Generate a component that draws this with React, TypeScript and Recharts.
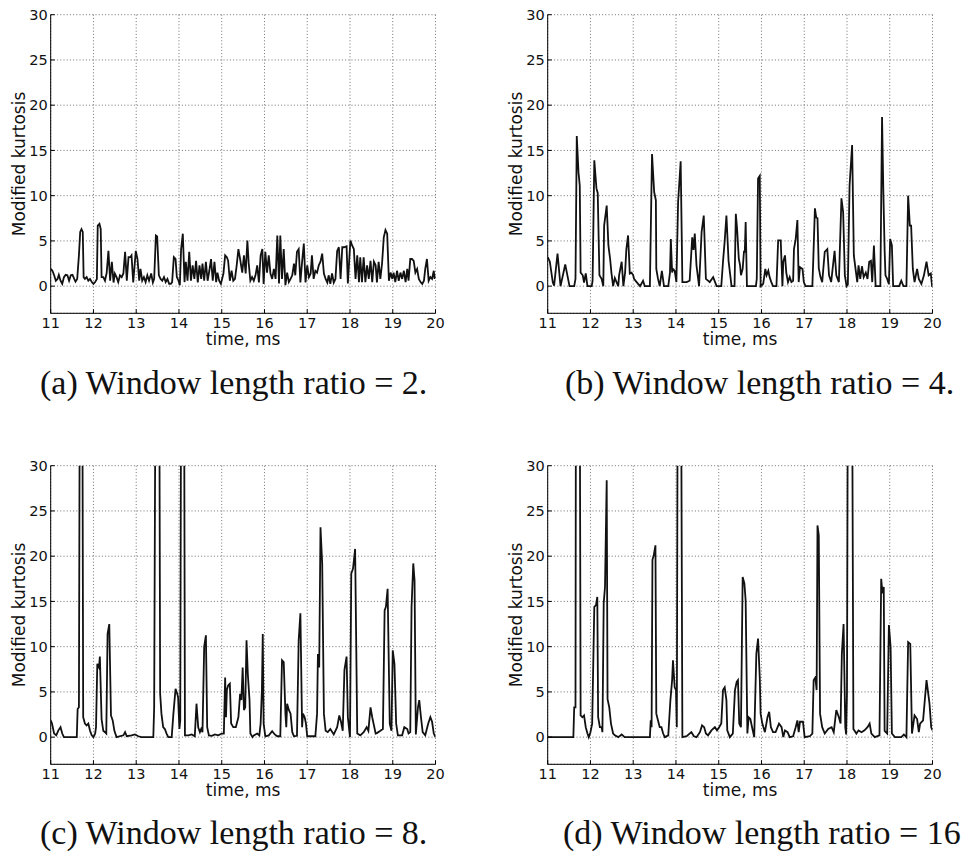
import { LineChart, Line, XAxis, YAxis, CartesianGrid } from "recharts";

// time axis (ms) and kurtosis axis ticks
const timeTicks = [11, 12, 13, 14, 15, 16, 17, 18, 19, 20];
const kurtosisTicks = [0, 5, 10, 15, 20, 25, 30];

// [time ms, modified kurtosis]; values above 30 run off the top of the plot
const ratio2: [number, number][] = [
  [11.00, 1.9], [11.04, 1.7], [11.08, 1.2], [11.12, 0.6], [11.16, 0.8], [11.19, 1.25], [11.23, 0.6], [11.27, 0.26],
  [11.31, 1.0], [11.35, 1.25], [11.39, 1.2], [11.43, 0.6], [11.47, 1.2], [11.51, 1.25], [11.55, 0.8], [11.58, 0.5],
  [11.62, 0.8], [11.66, 3.4], [11.69, 6.0], [11.72, 6.3], [11.75, 6.0], [11.77, 1.0], [11.80, 0.8], [11.84, 1.0],
  [11.88, 0.6], [11.92, 0.8], [11.96, 0.45], [12.00, 0.25], [12.04, 0.45], [12.08, 0.8], [12.10, 6.7], [12.14, 6.9],
  [12.17, 6.3], [12.19, 1.0], [12.23, 1.0], [12.27, 0.6], [12.31, 1.5], [12.35, 3.9], [12.39, 0.6], [12.43, 2.7],
  [12.47, 0.4], [12.50, 1.4], [12.54, 1.0], [12.58, 0.45], [12.62, 1.2], [12.66, 1.0], [12.70, 1.4], [12.74, 3.8],
  [12.78, 0.6], [12.82, 3.2], [12.86, 3.2], [12.89, 3.4], [12.93, 0.4], [12.99, 3.9], [13.03, 3.0], [13.07, 0.6],
  [13.10, 1.9], [13.14, 0.6], [13.18, 1.0], [13.22, 0.45], [13.26, 1.2], [13.30, 0.6], [13.35, 1.4], [13.39, 0.4],
  [13.42, 0.8], [13.46, 5.6], [13.49, 5.5], [13.53, 1.2], [13.57, 0.8], [13.61, 0.6], [13.65, 1.0], [13.69, 0.45],
  [13.73, 0.8], [13.77, 0.26], [13.81, 0.26], [13.84, 0.45], [13.88, 3.2], [13.92, 3.0], [13.95, 1.0], [13.99, 0.6],
  [14.02, 0.1], [14.05, 4.1], [14.09, 5.8], [14.13, 0.45], [14.16, 2.7], [14.20, 0.6], [14.24, 3.8], [14.28, 0.6],
  [14.32, 2.3], [14.36, 0.8], [14.40, 2.8], [14.44, 0.4], [14.48, 2.3], [14.52, 0.8], [14.55, 2.5], [14.59, 0.6],
  [14.63, 2.7], [14.67, 0.6], [14.71, 1.7], [14.75, 3.0], [14.79, 0.6], [14.83, 2.7], [14.87, 0.45], [14.90, 1.5],
  [14.94, 0.6], [14.98, 0.25], [15.04, 1.4], [15.08, 3.4], [15.12, 3.2], [15.15, 2.8], [15.19, 0.6], [15.23, 1.7],
  [15.27, 0.6], [15.31, 0.8], [15.35, 2.3], [15.39, 4.1], [15.43, 3.0], [15.48, 1.5], [15.52, 3.4], [15.56, 1.4],
  [15.60, 5.05], [15.63, 2.6], [15.67, 0.6], [15.71, 1.0], [15.75, 0.6], [15.79, 1.2], [15.83, 2.3], [15.87, 0.4],
  [15.91, 3.4], [15.95, 4.1], [15.98, 0.25], [16.02, 3.8], [16.06, 1.5], [16.10, 3.4], [16.14, 1.4], [16.18, 0.8],
  [16.22, 1.9], [16.26, 0.8], [16.30, 5.6], [16.34, 0.3], [16.37, 5.6], [16.41, 0.8], [16.45, 4.1], [16.49, 0.1],
  [16.53, 1.5], [16.57, 0.45], [16.61, 0.8], [16.65, 1.2], [16.69, 2.5], [16.72, 1.2], [16.76, 3.8], [16.80, 4.1],
  [16.84, 0.4], [16.88, 2.7], [16.92, 4.7], [16.96, 0.4], [17.00, 2.3], [17.04, 1.0], [17.08, 1.4], [17.11, 3.4],
  [17.15, 0.8], [17.19, 1.7], [17.23, 1.5], [17.27, 2.3], [17.31, 2.7], [17.35, 3.6], [17.39, 1.4], [17.43, 0.8],
  [17.47, 0.4], [17.50, 1.2], [17.54, 0.25], [17.58, 1.4], [17.62, 0.4], [17.66, 0.8], [17.70, 3.9], [17.74, 4.3],
  [17.78, 0.8], [17.82, 4.3], [17.86, 4.3], [17.92, 4.4], [17.95, 0.3], [18.01, 5.05], [18.05, 4.5], [18.09, 4.1],
  [18.13, 0.8], [18.17, 3.4], [18.21, 0.45], [18.24, 3.2], [18.28, 0.45], [18.32, 3.2], [18.36, 0.45], [18.40, 2.3],
  [18.44, 0.8], [18.48, 2.8], [18.52, 0.45], [18.56, 2.7], [18.60, 2.3], [18.63, 0.4], [18.67, 2.7], [18.71, 0.8],
  [18.75, 2.5], [18.79, 5.4], [18.83, 6.2], [18.87, 5.8], [18.91, 0.6], [18.95, 1.5], [18.99, 0.8], [19.02, 1.5],
  [19.06, 0.45], [19.10, 1.7], [19.14, 0.6], [19.18, 1.5], [19.22, 0.8], [19.26, 1.7], [19.30, 0.45], [19.34, 1.9],
  [19.37, 0.6], [19.41, 3.0], [19.45, 3.0], [19.49, 2.8], [19.53, 1.5], [19.57, 1.9], [19.61, 0.8], [19.65, 0.45],
  [19.69, 0.25], [19.73, 0.6], [19.76, 1.9], [19.80, 3.0], [19.84, 0.6], [19.88, 1.0], [19.92, 0.8], [19.96, 1.7],
  [19.98, 0.8], [20.00, 1.2],
];

const ratio4: [number, number][] = [
  [11.00, 3.2], [11.05, 2.7], [11.12, 0.4], [11.15, 0.05], [11.23, 3.6], [11.30, 0.0], [11.41, 2.4], [11.51, 0.0],
  [11.62, 0.0], [11.65, 0.8], [11.68, 16.6], [11.72, 12.6], [11.75, 11.1], [11.77, 1.5], [11.82, 1.2], [11.85, 0.4],
  [11.89, 1.4], [11.93, 0.0], [12.03, 0.0], [12.05, 0.6], [12.09, 13.9], [12.14, 10.8], [12.17, 10.3], [12.21, 1.2],
  [12.26, 0.8], [12.30, 0.0], [12.32, 6.7], [12.38, 8.9], [12.42, 4.5], [12.46, 3.0], [12.49, 1.5], [12.53, 0.0],
  [12.57, 0.9], [12.61, 0.45], [12.65, 0.0], [12.67, 1.2], [12.73, 2.7], [12.77, 0.0], [12.81, 1.5], [12.84, 4.1],
  [12.88, 5.6], [12.92, 1.4], [12.96, 1.5], [13.00, 1.2], [13.02, 0.8], [13.08, 0.45], [13.16, 0.0], [13.23, 0.6],
  [13.27, 0.0], [13.39, 0.0], [13.44, 14.6], [13.49, 10.4], [13.53, 9.5], [13.54, 1.9], [13.58, 0.8], [13.62, 0.0],
  [13.67, 1.7], [13.72, 0.0], [13.82, 0.0], [13.86, 1.5], [13.88, 5.2], [13.91, 1.5], [13.93, 1.9], [13.97, 1.7],
  [14.01, 0.45], [14.05, 9.3], [14.11, 13.8], [14.15, 0.45], [14.25, 0.45], [14.32, 0.6], [14.38, 5.4], [14.41, 4.0],
  [14.44, 5.8], [14.48, 2.3], [14.54, 0.0], [14.60, 6.0], [14.65, 7.8], [14.70, 0.8], [14.79, 0.45], [14.87, 1.0],
  [14.95, 0.0], [15.06, 0.0], [15.10, 2.7], [15.14, 5.0], [15.18, 7.8], [15.23, 2.8], [15.30, 0.0], [15.37, 0.0],
  [15.40, 8.0], [15.43, 6.3], [15.47, 3.0], [15.50, 2.3], [15.52, 1.2], [15.56, 1.9], [15.59, 3.8], [15.61, 3.8],
  [15.63, 7.1], [15.66, 0.0], [15.87, 0.0], [15.89, 0.8], [15.92, 11.9], [15.96, 12.2], [15.98, 0.0], [16.04, 0.25],
  [16.09, 1.9], [16.12, 1.2], [16.16, 1.7], [16.19, 1.0], [16.23, 0.45], [16.27, 0.0], [16.35, 0.0], [16.39, 5.05],
  [16.45, 5.05], [16.49, 0.0], [16.51, 2.7], [16.55, 3.4], [16.58, 1.5], [16.62, 0.45], [16.66, 1.0], [16.70, 0.45],
  [16.74, 0.6], [16.76, 4.1], [16.80, 5.2], [16.84, 7.3], [16.87, 0.45], [16.90, 2.1], [16.96, 1.9], [16.99, 0.45],
  [17.03, 0.0], [17.19, 0.0], [17.21, 2.7], [17.25, 8.6], [17.28, 7.6], [17.31, 7.5], [17.34, 2.0], [17.38, 1.0],
  [17.42, 0.45], [17.48, 3.8], [17.54, 4.1], [17.58, 1.2], [17.63, 0.45], [17.71, 3.9], [17.75, 1.2], [17.81, 0.45],
  [17.87, 9.7], [17.91, 8.2], [17.95, 1.2], [17.99, 0.0], [18.02, 0.2], [18.06, 11.1], [18.12, 15.6], [18.16, 3.4],
  [18.20, 1.9], [18.24, 0.45], [18.27, 2.3], [18.31, 0.8], [18.35, 2.2], [18.39, 1.0], [18.44, 1.5], [18.48, 0.8],
  [18.52, 2.7], [18.56, 2.8], [18.59, 0.45], [18.63, 4.5], [18.67, 0.0], [18.78, 0.0], [18.82, 18.7], [18.85, 10.5],
  [18.88, 4.0], [18.90, 1.2], [18.94, 0.8], [18.98, 0.2], [19.01, 5.2], [19.05, 4.5], [19.08, 0.0], [19.22, 0.0],
  [19.27, 0.6], [19.32, 0.0], [19.39, 0.0], [19.43, 10.0], [19.47, 6.7], [19.50, 6.7], [19.54, 1.9], [19.58, 0.45],
  [19.64, 1.9], [19.68, 0.8], [19.74, 0.25], [19.80, 1.2], [19.86, 2.7], [19.91, 1.2], [19.96, 1.4], [19.99, 0.0],
  [20.00, 0.0],
];

const ratio8: [number, number][] = [
  [11.00, 1.85], [11.03, 1.5], [11.08, 0.4], [11.13, 0.2], [11.18, 0.75], [11.23, 1.1], [11.27, 0.4], [11.31, 0.0],
  [11.61, 0.0], [11.63, 3.1], [11.66, 3.3], [11.68, 40], [11.74, 40], [11.76, 2.2], [11.80, 1.5], [11.84, 1.3],
  [11.88, 1.5], [11.92, 0.7], [11.96, 0.2], [12.00, 0.0], [12.04, 0.4], [12.06, 1.1], [12.09, 8.1], [12.13, 7.7],
  [12.15, 8.9], [12.19, 2.0], [12.23, 0.7], [12.27, 0.55], [12.30, 0.4], [12.33, 11.4], [12.37, 12.5], [12.41, 2.4],
  [12.45, 1.85], [12.49, 0.7], [12.54, 0.0], [12.70, 0.2], [12.74, 0.55], [12.78, 0.1], [12.89, 0.2], [12.97, 0.3],
  [13.05, 0.1], [13.12, 0.0], [13.40, 0.0], [13.42, 3.3], [13.45, 40], [13.54, 40], [13.56, 4.8], [13.59, 2.6],
  [13.63, 1.1], [13.67, 0.9], [13.71, 0.4], [13.75, 0.0], [13.83, 0.0], [13.87, 2.6], [13.92, 5.35], [13.96, 4.8],
  [13.98, 4.4], [14.01, 0.9], [14.03, 1.85], [14.05, 40], [14.12, 40], [14.14, 0.2], [14.22, 0.2], [14.30, 0.3],
  [14.37, 0.1], [14.41, 3.7], [14.45, 1.1], [14.49, 0.55], [14.52, 0.9], [14.55, 0.55], [14.59, 10.0], [14.63, 11.25],
  [14.66, 1.1], [14.70, 0.2], [14.77, 0.15], [14.84, 0.3], [14.92, 0.2], [15.00, 0.4], [15.05, 0.4], [15.08, 6.6],
  [15.10, 2.2], [15.12, 5.2], [15.15, 5.7], [15.19, 5.9], [15.22, 1.5], [15.27, 1.1], [15.33, 1.1], [15.39, 2.2],
  [15.43, 4.8], [15.46, 4.1], [15.49, 7.7], [15.52, 3.0], [15.55, 3.3], [15.58, 10.7], [15.61, 7.0], [15.65, 4.1],
  [15.67, 0.4], [15.72, 0.0], [15.75, 0.2], [15.83, 0.4], [15.88, 0.2], [15.91, 1.5], [15.94, 5.2], [15.96, 11.4],
  [15.98, 1.5], [16.02, 0.1], [16.10, 0.2], [16.18, 0.66], [16.24, 0.3], [16.30, 0.1], [16.37, 0.1], [16.41, 8.5],
  [16.45, 8.3], [16.49, 2.6], [16.51, 1.1], [16.53, 3.7], [16.57, 3.0], [16.61, 2.6], [16.65, 0.55], [16.69, 0.1],
  [16.76, 0.15], [16.80, 10.7], [16.84, 13.7], [16.88, 1.1], [16.90, 2.6], [16.94, 2.2], [16.97, 1.5], [17.00, 0.1],
  [17.19, 0.1], [17.23, 2.6], [17.25, 9.2], [17.28, 7.7], [17.31, 23.2], [17.35, 19.2], [17.39, 2.6], [17.43, 0.7],
  [17.48, 0.55], [17.54, 0.9], [17.62, 0.3], [17.70, 1.1], [17.75, 2.4], [17.79, 1.7], [17.83, 0.7], [17.87, 7.4],
  [17.92, 8.9], [17.95, 2.2], [18.00, 0.0], [18.03, 18.1], [18.07, 18.6], [18.12, 20.8], [18.17, 0.4], [18.24, 0.2],
  [18.32, 0.55], [18.39, 1.1], [18.43, 0.7], [18.48, 3.3], [18.52, 2.2], [18.56, 1.3], [18.60, 0.4], [18.63, 0.45],
  [18.71, 0.7], [18.77, 0.9], [18.81, 14.0], [18.84, 14.4], [18.88, 16.4], [18.93, 1.5], [18.97, 0.7], [19.00, 9.6],
  [19.04, 8.1], [19.08, 1.5], [19.12, 0.2], [19.22, 0.2], [19.27, 1.1], [19.34, 0.9], [19.37, 0.4], [19.41, 0.55],
  [19.44, 14.4], [19.48, 19.2], [19.51, 17.3], [19.54, 0.3], [19.59, 3.3], [19.62, 4.1], [19.66, 2.2], [19.70, 0.55],
  [19.76, 0.2], [19.83, 1.5], [19.88, 2.2], [19.92, 1.7], [19.96, 0.4], [20.00, 0.0],
];

const ratio16: [number, number][] = [
  [11.00, 0.0], [11.60, 0.0], [11.62, 3.3], [11.65, 3.3], [11.66, 40], [11.75, 40], [11.77, 2.4], [11.81, 2.2],
  [11.85, 2.4], [11.89, 1.1], [11.93, 0.4], [11.96, 0.0], [12.00, 0.55], [12.04, 1.5], [12.09, 14.4], [12.13, 14.6],
  [12.16, 15.5], [12.18, 2.2], [12.22, 1.1], [12.26, 1.1], [12.28, 0.55], [12.31, 14.8], [12.34, 16.6], [12.38, 28.4],
  [12.40, 4.2], [12.44, 3.3], [12.48, 1.5], [12.53, 0.4], [12.57, 0.2], [12.65, 0.0], [12.73, 0.3], [12.80, 0.0],
  [13.39, 0.0], [13.41, 1.85], [13.43, 1.1], [13.45, 19.6], [13.48, 20.1], [13.52, 21.2], [13.54, 2.6], [13.58, 1.85],
  [13.62, 1.1], [13.66, 1.1], [13.70, 0.4], [13.74, 0.0], [13.82, 0.2], [13.87, 4.1], [13.91, 6.3], [13.93, 8.5],
  [13.97, 5.5], [14.00, 5.2], [14.02, 1.1], [14.04, 40], [14.12, 40], [14.15, 0.0], [14.25, 0.1], [14.36, 0.55],
  [14.42, 0.1], [14.48, 0.0], [14.56, 0.55], [14.61, 1.3], [14.66, 1.1], [14.70, 0.4], [14.75, 0.2], [14.83, 0.75],
  [14.91, 1.1], [14.96, 0.75], [15.01, 1.1], [15.06, 1.5], [15.10, 5.2], [15.14, 5.5], [15.18, 4.1], [15.20, 0.75],
  [15.26, 0.0], [15.33, 0.4], [15.38, 5.2], [15.42, 6.1], [15.45, 6.3], [15.48, 1.5], [15.52, 1.1], [15.56, 17.7],
  [15.60, 17.0], [15.63, 15.1], [15.67, 0.4], [15.70, 2.2], [15.74, 2.0], [15.78, 1.1], [15.83, 0.0], [15.88, 9.2],
  [15.92, 10.9], [15.96, 6.6], [15.98, 2.6], [16.02, 1.5], [16.08, 0.55], [16.14, 2.2], [16.18, 2.8], [16.22, 1.1],
  [16.27, 0.55], [16.33, 0.55], [16.41, 1.5], [16.47, 1.1], [16.51, 0.0], [16.55, 0.75], [16.61, 0.55], [16.66, 0.0],
  [16.74, 0.1], [16.80, 1.1], [16.84, 1.85], [16.87, 0.55], [16.90, 1.7], [16.97, 1.7], [17.01, 0.0], [17.13, 0.1],
  [17.19, 0.4], [17.22, 6.3], [17.26, 6.6], [17.29, 5.2], [17.31, 23.4], [17.34, 22.3], [17.37, 2.6], [17.42, 1.1],
  [17.48, 0.4], [17.56, 0.9], [17.64, 1.1], [17.69, 0.55], [17.75, 3.0], [17.81, 2.2], [17.85, 1.5], [17.88, 9.2],
  [17.92, 12.5], [17.96, 1.1], [17.98, 0.3], [18.00, 5.0], [18.02, 40], [18.12, 40], [18.15, 0.9], [18.22, 0.4],
  [18.27, 0.75], [18.34, 0.55], [18.41, 0.75], [18.48, 1.1], [18.53, 1.5], [18.57, 0.4], [18.65, 0.0], [18.76, 0.2],
  [18.80, 17.5], [18.83, 15.9], [18.86, 16.6], [18.88, 0.7], [18.94, 0.4], [18.98, 12.4], [19.02, 10.0], [19.05, 0.4],
  [19.12, 0.0], [19.27, 0.0], [19.33, 0.3], [19.39, 0.0], [19.43, 10.5], [19.48, 10.3], [19.52, 0.4], [19.58, 2.4],
  [19.64, 2.0], [19.68, 0.55], [19.71, 1.5], [19.78, 1.85], [19.82, 4.1], [19.86, 6.3], [19.89, 5.2], [19.93, 3.7],
  [19.97, 1.1], [20.00, 0.75],
];

// the last caption runs to the page edge in the source, its full stop is not visible
const captions = [
  "(a) Window length ratio = 2.",
  "(b) Window length ratio = 4.",
  "(c) Window length ratio = 8.",
  "(d) Window length ratio = 16",
];

const panels = [
  { series: ratio2, caption: captions[0], left: 0, top: 0, captionX: 40, captionY: 393.5 },
  { series: ratio4, caption: captions[1], left: 497, top: 0, captionX: 565, captionY: 393.5 },
  { series: ratio8, caption: captions[2], left: 0, top: 450.6, captionX: 40, captionY: 844 },
  { series: ratio16, caption: captions[3], left: 497, top: 450.6, captionX: 563, captionY: 844 },
];

const CHART_W = 481;
const CHART_H = 360;
const SANS = '"DejaVu Sans", Verdana, sans-serif';
const SERIF = '"Liberation Serif", "Times New Roman", serif';
const tickStyle = { fill: "#111", fontSize: 14.5, fontFamily: SANS };

function YTitle(props: any) {
  const vb = props.viewBox || {};
  const x = (vb.x ?? 0) + (vb.width ?? 50.7) - 32;
  const y = (vb.y ?? 14.7) + (vb.height ?? 298.6) / 2;
  return (
    <text x={x} y={y} dy="0.36em" transform={`rotate(-90 ${x} ${y})`} textAnchor="middle"
      fontFamily={SANS} fontSize={17} fill="#111">
      Modified kurtosis
    </text>
  );
}

function XTitle(props: any) {
  const vb = props.viewBox || {};
  const x = (vb.x ?? 50.7) + (vb.width ?? 384.8) / 2;
  const y = (vb.y ?? 313.3) + 31.7;
  return (
    <text x={x} y={y} textAnchor="middle" fontFamily={SANS} fontSize={17} fill="#111">
      time, ms
    </text>
  );
}

function KurtosisPanel({ series }: { series: [number, number][] }) {
  const data = series.map(([t, v]) => ({ t, v }));
  return (
    <LineChart width={CHART_W} height={CHART_H} data={data}
      margin={{ top: 14.7, right: 45.5, bottom: 12.7, left: 0 }}>
      <CartesianGrid stroke="#333" strokeWidth={0.7} strokeDasharray="1 2.2" />
      <XAxis dataKey="t" type="number" domain={[11, 20]} ticks={timeTicks} interval={0}
        allowDataOverflow height={34} tickSize={-4} tickMargin={8} tick={tickStyle}
        axisLine={{ stroke: "#000" }} tickLine={{ stroke: "#000" }} label={XTitle} />
      <XAxis xAxisId="top" orientation="top" type="number" domain={[11, 20]} ticks={timeTicks}
        interval={0} height={0} tickSize={-4} tick={false}
        axisLine={{ stroke: "#000" }} tickLine={{ stroke: "#000" }} />
      <YAxis type="number" domain={[-3, 30]} ticks={kurtosisTicks} interval={0} allowDataOverflow
        width={50.7} tickSize={-4} tickMargin={7} tick={tickStyle}
        axisLine={{ stroke: "#000" }} tickLine={{ stroke: "#000" }} label={YTitle} />
      <YAxis yAxisId="right" orientation="right" type="number" domain={[-3, 30]} ticks={kurtosisTicks}
        interval={0} width={0} tickSize={-4} tick={false}
        axisLine={{ stroke: "#000" }} tickLine={{ stroke: "#000" }} />
      <Line type="linear" dataKey="v" stroke="#111" strokeWidth={1.8} dot={false}
        activeDot={false} isAnimationActive={false} />
    </LineChart>
  );
}

export default function App() {
  return (
    <div style={{ position: "absolute", left: 0, top: 0, width: 962, height: 867, overflow: "hidden", background: "#fff" }}>
      {panels.map((p, i) => (
        <div key={i} style={{ position: "absolute", left: p.left, top: p.top }}>
          <KurtosisPanel series={p.series} />
        </div>
      ))}
      <svg width={962} height={867} style={{ position: "absolute", left: 0, top: 0, pointerEvents: "none" }}>
        {panels.map((p, i) => (
          <text key={i} x={p.captionX} y={p.captionY} fontFamily={SERIF} fontSize={34} fill="#111">
            {p.caption}
          </text>
        ))}
      </svg>
    </div>
  );
}
